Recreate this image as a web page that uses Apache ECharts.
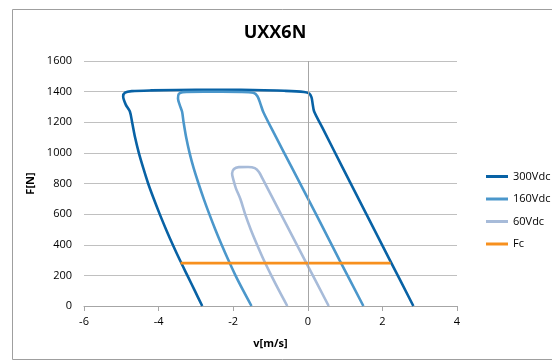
<!DOCTYPE html>
<html>
<head>
<meta charset="utf-8">
<script src="https://cdn.jsdelivr.net/npm/echarts@6/dist/echarts.min.js"></script>
<style>
html,body{margin:0;padding:0;background:#ffffff;}
#c{width:552px;height:363px;}
</style>
</head>
<body>
<div id="c"></div>
<script>
var titleText = 'UXX6N';
var xName = 'v[m/s]';
var yName = 'F[N]';
var xTicks = {min: -6, max: 4, interval: 2};
var yTicks = {min: 0, max: 1600, interval: 200};
var seriesNames = ['300Vdc', '160Vdc', '60Vdc', 'Fc'];

var v300 = [[2.83,0],[2.20,300],[1.57,600],[0.94,900],[0.38,1170],[0.17,1270],[0.13,1320],[0.10,1362],[0.04,1388],[-0.10,1398],[-0.6,1405],[-1.8,1412],[-3.0,1412],[-4.2,1408],[-4.72,1403],[-4.90,1393],[-4.95,1368],[-4.88,1315],[-4.77,1270],[-4.71,1200],[-4.63,1100],[-4.53,1000],[-4.41,900],[-4.28,800],[-4.13,700],[-3.97,600],[-3.80,500],[-3.62,400],[-3.43,300],[-3.23,200],[-3.03,100],[-2.83,0]];
var v160 = [[1.49,0],[0.85,300],[0.22,600],[-0.42,900],[-0.91,1130],[-1.19,1265],[-1.27,1320],[-1.35,1370],[-1.46,1392],[-1.8,1398],[-2.8,1399],[-3.35,1397],[-3.46,1385],[-3.48,1355],[-3.43,1310],[-3.37,1268],[-3.33,1200],[-3.26,1100],[-3.17,1000],[-3.06,900],[-2.93,800],[-2.79,700],[-2.64,600],[-2.48,500],[-2.31,400],[-2.13,300],[-1.94,200],[-1.73,100],[-1.51,0]];
var v60 = [[0.56,0],[-0.08,300],[-0.72,600],[-1.22,835],[-1.31,875],[-1.42,900],[-1.6,908],[-1.85,907],[-1.98,895],[-2.03,865],[-1.99,820],[-1.93,770],[-1.81,700],[-1.68,600],[-1.53,500],[-1.36,400],[-1.18,300],[-0.98,200],[-0.77,100],[-0.55,0]];
var vFc = [[-3.41,280],[2.22,280]];

var colors = ['#0862a5', '#4b97cb', '#a7bbd9', '#f7901e'];
var fontFam = '"Open Sans", "Noto Sans", sans-serif';

var chart = echarts.init(document.getElementById('c'), null, {renderer: 'canvas'});

function mkSeries(name, data, color, extra) {
  var s = {
    name: name,
    type: 'line',
    data: data,
    smooth: 0.3,
    showSymbol: false,
    symbol: 'none',
    lineStyle: {color: color, width: 2.6},
    itemStyle: {color: color},
    z: 3,
    animation: false
  };
  if (extra) for (var k in extra) s[k] = extra[k];
  return s;
}

var option = {
  animation: false,
  backgroundColor: '#ffffff',
  title: {
    text: titleText,
    left: 270, top: 19,
    textAlign: 'center',
    textStyle: {fontFamily: fontFam, fontSize: 18, fontWeight: 'bold', color: '#000'}
  },
  graphic: [{
    type: 'rect', left: 10, top: 7, silent: true,
    shape: {width: 560, height: 350},
    style: {fill: 'none', stroke: '#9f9f9f', lineWidth: 1},
    z: -1
  }],
  grid: {left: 84, right: 95, top: 61, bottom: 57, containLabel: false},
  legend: {
    orient: 'vertical',
    left: 481, top: 166,
    itemWidth: 22, itemHeight: 3,
    itemGap: 11.5,
    icon: 'rect',
    textStyle: {fontFamily: fontFam, fontSize: 11, color: '#000'},
    data: seriesNames
  },
  xAxis: {
    type: 'value',
    min: xTicks.min, max: xTicks.max, interval: xTicks.interval,
    name: xName, nameLocation: 'middle', nameGap: 32,
    nameTextStyle: {fontFamily: fontFam, fontSize: 11, fontWeight: 'bold', color: '#000'},
    axisLine: {onZero: false, lineStyle: {color: '#a6a6a6', width: 1}},
    axisTick: {show: true, length: 5, inside: false, lineStyle: {color: '#a6a6a6'}},
    axisLabel: {fontFamily: fontFam, fontSize: 11, color: '#000', margin: 10,
      formatter: function (v) { return String(v); }},
    splitLine: {show: false}
  },
  yAxis: {
    type: 'value',
    min: yTicks.min, max: yTicks.max, interval: yTicks.interval,
    name: yName, nameLocation: 'middle', nameGap: 48, nameRotate: 90,
    nameTextStyle: {fontFamily: fontFam, fontSize: 11, fontWeight: 'bold', color: '#000'},
    axisLine: {show: false},
    axisTick: {show: false},
    axisLabel: {fontFamily: fontFam, fontSize: 11, color: '#000', margin: 12,
      formatter: function (v) { return String(v); }},
    splitLine: {show: true, lineStyle: {color: '#c0c0c0', width: 1}}
  },
  series: [
    mkSeries(seriesNames[0], v300, colors[0], {
      markLine: {
        silent: true, symbol: 'none', animation: false,
        label: {show: false},
        lineStyle: {color: '#a6a6a6', width: 1, type: 'solid'},
        data: [{xAxis: 0}]
      }
    }),
    mkSeries(seriesNames[1], v160, colors[1]),
    mkSeries(seriesNames[2], v60, colors[2]),
    mkSeries(seriesNames[3], vFc, colors[3], {smooth: false})
  ]
};
chart.setOption(option);
</script>
</body>
</html>
